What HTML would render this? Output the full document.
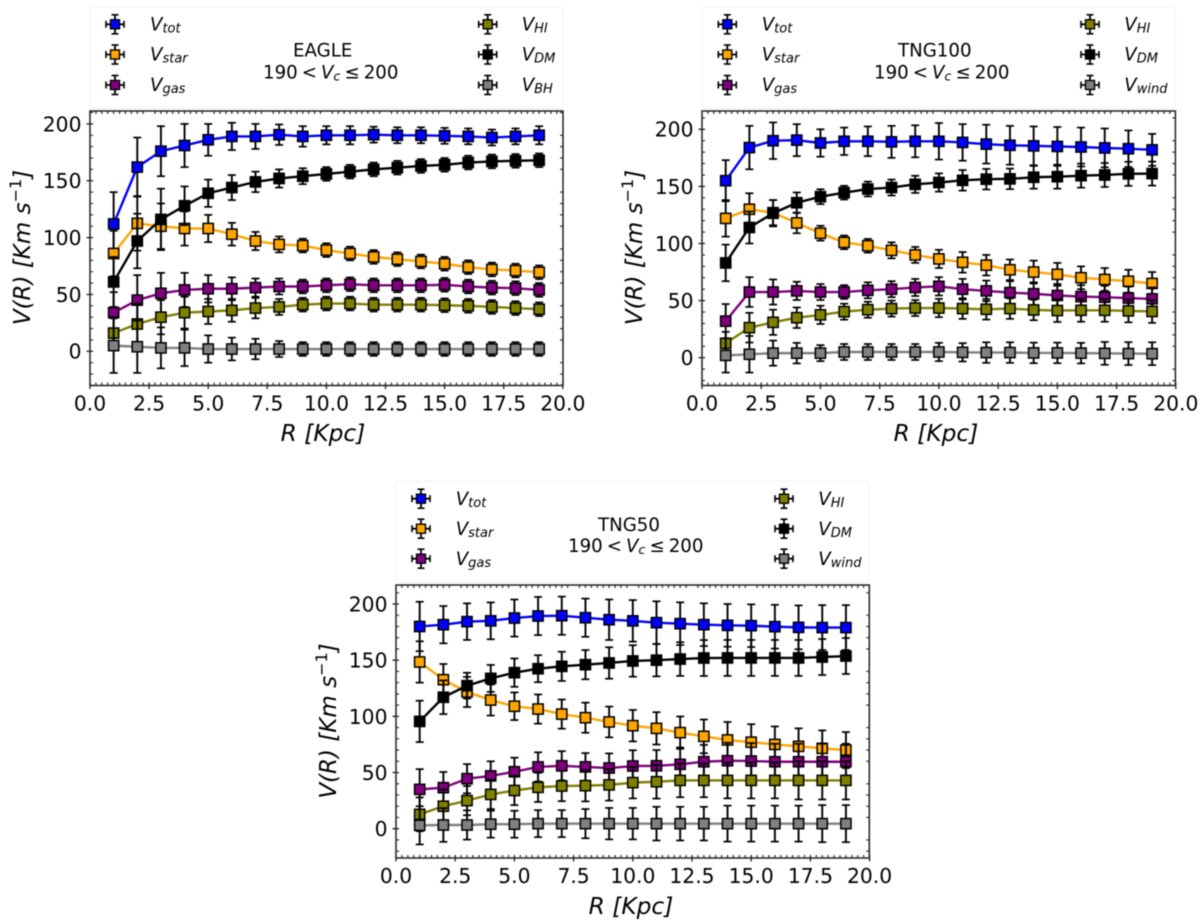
<!DOCTYPE html>
<html>
<head>
<meta charset="utf-8">
<title>Rotation curves</title>
<style>
html,body{margin:0;padding:0;background:#fff;width:1200px;height:923px;overflow:hidden}
svg{display:block;filter:blur(0.4px)}
text{font-family:"DejaVu Sans","Liberation Sans",sans-serif;fill:#000}
</style>
</head>
<body>
<svg id="fig" xmlns="http://www.w3.org/2000/svg" width="1200" height="923" viewBox="0 0 1200 923"></svg>
<script>
const radii = [1,2,3,4,5,6,7,8,9,10,11,12,13,14,15,16,17,18,19];
const xTickLabels = ['0.0','2.5','5.0','7.5','10.0','12.5','15.0','17.5','20.0'];
const yTickLabels = ['0','50','100','150','200'];

const eagleTot  = [112,162,176,181,186,189,189,190.5,189,190,190,190.5,190,190,189.5,189,188,189,190];
const eagleStar = [86,112.5,110,108,108,103,97,94,93,89,86,83,81,79,77,74,72,71,69.5];
const eagleGas  = [34,45,51,54,55,55,56,57,57,58,59,58,58,58,58.5,57,56,55.5,54];
const eagleHI   = [16,24,30,34,35,36,38,39,41,42,42,41,41,41,40.5,40,39,38,37];
const eagleDM   = [61,97,116,128,139,144,149,152,154,156,158,160,161.5,163,164,166,167,167.5,168];
const eagleBH   = [5,4,3,3,2,2,2,2,2,2,2,2,2,2,2,2,2,2,2];
const eagleTotErr  = [28,26,22,19,14,12,11,9,9,8,8,7,7,7,7,7,7,7,8];
const eagleStarErr = [20,24,20,15,12,10,8,7,6,6,6,6,6,6,6,6,6,6,6];
const eagleGasErr  = [18,22,18,15,12,10,8,7,6,6,6,6,6,6,6,6,6,6,6];
const eagleHIErr   = [14,18,15,14,11,10,9,7,6,6,6,6,6,6,6,6,6,6,6];
const eagleDMErr   = [22,24,27,17,12,11,9,8,7,6,6,6,6,6,6,6,6,6,6];
const eagleBHErr   = [24,23,18,16,12,10,9,7,6,6,6,6,6,6,6,6,6,6,6];

const tng100Tot  = [155,184,190,190.5,188,189.5,189.5,189,189.5,189.5,188.5,187,186,185.5,185,184.5,183.7,183,182];
const tng100Star = [122,130,127,118,109,101,98,94,90,86.5,83.5,81,77,75,73,70,68.5,67,65];
const tng100Gas  = [32,57.5,57.5,58.5,57.5,57.5,59,60,61.5,62.5,60,58.5,57,56,54.5,53.5,53,52.2,51.5];
const tng100HI   = [12.6,26.3,31,35,37.5,40.3,42,43,43.5,43.5,43,42.4,43,41.8,41.3,41.5,41.5,41,40.5];
const tng100DM   = [83,114,126.5,135.7,141,144.5,147.7,149,151.8,153.4,155.3,156.3,156.6,158,158.5,159.4,160,161,161.2];
const tng100Wind = [2,3,4,4,4,5,5,5,5,5,4.7,4.5,4.5,4.2,4.2,4,3.8,3.6,3.5];
const tng100TotErr  = [18,19,16,14,12,12,13,14,14,16,16,17,17,17,17,17,17,16,14];
const tng100StarErr = [16,14,11,9,6.5,6,6,7,7,8,9,9,9,10,10,10,10,10,10];
const tng100GasErr  = [15,13,11,8,7,6,7,7,7.5,8,9,9,10,10,10,10,10,10,10];
const tng100HIErr   = [10,13,11,9,8,7,7,7,7,8,9,9,9,9,10,10,10,10,10];
const tng100DMErr   = [16,14,11.5,9,6.5,6,6.5,7,7.5,8,9,9,9,10,10.5,10.5,10.5,10.5,10.5];
const tng100WindErr = [15,16,11,9,7,7,7,7,7,8,8,9,9,9,9,9,10,10,10];

const tng50Tot  = [180,181.6,184.3,185,187.5,189.3,189.6,187.8,186,185,183.4,182.5,181.6,181,180.7,179.8,179.2,179,179];
const tng50Star = [148.4,132.6,121.7,114.5,109,106.5,102,98.8,95,91.7,89.3,85.5,82.2,79,77,75,73.3,71.5,70];
const tng50Gas  = [35,36.5,44.5,47,50.7,55,56,55,54,55.8,56,57.3,59.6,60.5,60.2,59.6,59.6,59.6,59.6];
const tng50HI   = [12.8,20,25,30.5,34,36.8,38,38.3,39,41,41.8,43,43,43,43,43,43,43,43];
const tng50DM   = [95.5,117,127.3,133.8,138.9,142.4,144.5,146,147.5,149.3,150,151,151.9,152,152,152,152,152.8,153.7];
const tng50Wind = [3,3.3,3.3,4,4,4.5,4.5,4.5,4.5,4.5,4.5,4.5,4.5,4.5,4.5,4.5,4.5,4.5,4.5];
const tng50TotErr  = [22,16.6,16.3,16.4,16.5,17,17,17,18,18.5,19,19,19,19,19,19.5,19.5,20,20];
const tng50StarErr = [18.4,14,13.4,13.8,12.3,13,13,13.4,13.7,14,14.4,14.4,15,16,16,16,16,16,16];
const tng50GasErr  = [18,14,13,13,12.5,13,13,12.3,13,14,14,15,15,16,16,16,16,16,16];
const tng50HIErr   = [15,15,13,13,13,13,13.5,14,14,14,15,15,15,16,16,16,17,17,17];
const tng50DMErr   = [18.4,15,11.5,12,12.6,12,13,13,14,14,14.4,15,16,16,16,16,16,16,16];
const tng50WindErr = [17,15,13,12,12,12,12,13,14,14,15,15,15,16,16,16,16,16.5,16.5];

const seriesColors = ['#0000ff','#ffa500','#800080','#808000','#000000','#808080'];

const panels = [
  {id:'eagle', title:'EAGLE', box:[90,563,111,385.5], xk:23.64, y0:351.3, yk:1.137,
   values:[eagleTot,eagleStar,eagleGas,eagleHI,eagleDM,eagleBH],
   errors:[eagleTotErr,eagleStarErr,eagleGasErr,eagleHIErr,eagleDMErr,eagleBHErr],
   subs:['tot','star','gas','HI','DM','BH'],
   legend:{box:[90,7,473,101],mx:[115,487.7],tx:[150,521.7],rows:[24.3,54.5,85],titleX:293,subX:263,b1:56.7,b2:78.3},
   ylabelX:30, ylabelY:247.5, xlabelX:323, xlabelY:441},
  {id:'tng100', title:'TNG100', box:[702,1175.4,111,385.5], xk:23.69, y0:357.7, yk:1.142,
   values:[tng100Tot,tng100Star,tng100Gas,tng100HI,tng100DM,tng100Wind],
   errors:[tng100TotErr,tng100StarErr,tng100GasErr,tng100HIErr,tng100DMErr,tng100WindErr],
   subs:['tot','star','gas','HI','DM','wind'],
   legend:{box:[702.3,7,472.7,101],mx:[727.3,1090],tx:[761.7,1124.3],rows:[24.3,54.5,85],titleX:898,subX:874,b1:56.7,b2:78.3},
   ylabelX:642, ylabelY:247.5, xlabelX:936, xlabelY:441},
  {id:'tng50', title:'TNG50', box:[396,869.3,585,858], xk:23.68, y0:828.7, yk:1.1235,
   values:[tng50Tot,tng50Star,tng50Gas,tng50HI,tng50DM,tng50Wind],
   errors:[tng50TotErr,tng50StarErr,tng50GasErr,tng50HIErr,tng50DMErr,tng50WindErr],
   subs:['tot','star','gas','HI','DM','wind'],
   legend:{box:[396,481.3,473,100.7],mx:[421,784],tx:[455.7,818.3],rows:[498.7,528.7,558.7],titleX:598,subX:568,b1:531,b2:552},
   ylabelX:336, ylabelY:721, xlabelX:631, xlabelY:914}
];

const NS = 'http://www.w3.org/2000/svg';
const fig = document.getElementById('fig');
function mk(tag, parent, attrs){
  const el = document.createElementNS(NS, tag);
  for (const k in attrs) el.setAttribute(k, attrs[k]);
  parent.appendChild(el);
  return el;
}
function line(parent,x1,y1,x2,y2,stroke,w){
  return mk('line',parent,{x1:x1,y1:y1,x2:x2,y2:y2,stroke:stroke,'stroke-width':w});
}
function addSpan(textEl, str, opts){
  const s = document.createElementNS(NS,'tspan');
  s.textContent = str;
  for (const k in opts) s.setAttribute(k, opts[k]);
  textEl.appendChild(s);
  return s;
}
function drawMarker(parent,cx,cy,color,size,edge){
  mk('rect',parent,{x:cx-size/2,y:cy-size/2,width:size,height:size,fill:color,stroke:'#000','stroke-width':edge});
}

panels.forEach(function(p){
  const L=p.box[0],R=p.box[1],T=p.box[2],B=p.box[3];
  const sx=function(v){return L+v*p.xk;};
  const sy=function(v){return p.y0-v*p.yk;};
  const g = mk('g',fig,{});
  
  

  // legend
  const lg = mk('g',g,{});
  
  
  const lb = p.legend.box;
  const frame = mk('rect',lg,{x:lb[0],y:lb[1],width:lb[2],height:lb[3],rx:3,fill:'#fff',stroke:'#f2f2f2','stroke-width':1});
  
  
  p.subs.forEach(function(sub,i){
    const col = i<3?0:1;
    const ry = p.legend.rows[i%3];
    const mx = p.legend.mx[col];
    const e = mk('g',lg,{});
    
    
    line(e,mx-9,ry,mx+9,ry,'#000',1.8);
    line(e,mx,ry-9.5,mx,ry+9.5,'#000',1.8);
    line(e,mx-9,ry-3.5,mx-9,ry+3.5,'#000',1.6);
    line(e,mx+9,ry-3.5,mx+9,ry+3.5,'#000',1.6);
    line(e,mx-3.5,ry-9.5,mx+3.5,ry-9.5,'#000',1.6);
    line(e,mx-3.5,ry+9.5,mx+3.5,ry+9.5,'#000',1.6);
    drawMarker(e,mx,ry,seriesColors[i],9,1.4);
    const t = mk('text',e,{x:p.legend.tx[col],y:ry+6.2,'font-size':18.2,'font-style':'italic'});
    addSpan(t,'V',{});
    addSpan(t,sub,{'font-size':13,dy:2});
  });
  const t1 = mk('text',lg,{x:p.legend.titleX,y:p.legend.b1,'font-size':18.2,fill:'#111'});
  t1.textContent = p.title;
  
  
  const t2 = mk('text',lg,{x:p.legend.subX,y:p.legend.b2,'font-size':18.2,fill:'#111'});
  
  
  addSpan(t2,'190',{});
  addSpan(t2,'<',{dx:4});
  addSpan(t2,'V',{'font-style':'italic',dx:4});
  addSpan(t2,'c',{'font-style':'italic','font-size':12.8,dy:2});
  addSpan(t2,'≤',{dx:4,dy:-2});
  addSpan(t2,'200',{dx:4});

  // axes background
  const bg = mk('rect',g,{x:L,y:T,width:R-L,height:B-T,fill:'#fff'});
  
  

  // series
  const plot = mk('g',g,{});
  
  
  p.values.forEach(function(vals,i){
    const sg = mk('g',plot,{});
    
    
    const pts = vals.map(function(v,j){return sx(radii[j]).toFixed(2)+','+sy(v).toFixed(2);}).join(' ');
    mk('polyline',sg,{points:pts,fill:'none',stroke:seriesColors[i],'stroke-width':2.4,'stroke-linejoin':'round'});
    vals.forEach(function(v,j){
      const x=sx(radii[j]),e=p.errors[i][j];
      const y1=sy(v+e),y2=sy(v-e);
      line(sg,x,y1,x,y2,'#000',1.9);
      line(sg,x-4,y1,x+4,y1,'#000',1.7);
      line(sg,x-4,y2,x+4,y2,'#000',1.7);
    });
    vals.forEach(function(v,j){
      drawMarker(sg,sx(radii[j]),sy(v),seriesColors[i],10.2,1.5);
    });
  });

  // ticks
  const ax = mk('g',g,{});
  
  
  const tc='#222';
  for(let n=0;n<=80;n++){
    const x=sx(n*0.25);
    if(n%10===0){
      line(ax,x,B-3,x,B+3.5,tc,1.3);
    }else{
      line(ax,x,B-3,x,B,tc,1.1);
      line(ax,x,T,x,T+3,tc,1.1);
    }
  }
  const yMin=Math.ceil((p.y0-B)/p.yk/10)*10, yMax=Math.floor((p.y0-T)/p.yk/10)*10;
  for(let v=yMin;v<=yMax;v+=10){
    const y=sy(v);
    if(v%50===0){
      line(ax,L-3.5,y,L+3,y,tc,1.3);
    }else{
      line(ax,L,y,L+3,y,tc,1.1);
      line(ax,R-3,y,R,y,tc,1.1);
    }
  }
  const spine = mk('rect',ax,{x:L,y:T,width:R-L,height:B-T,fill:'none',stroke:'#222','stroke-width':1.5});
  
  

  xTickLabels.forEach(function(lbl){
    const t = mk('text',ax,{x:sx(parseFloat(lbl)),y:B+25,'font-size':20.3,'text-anchor':'middle'});
    t.textContent = lbl;
    
    
  });
  yTickLabels.forEach(function(lbl){
    const t = mk('text',ax,{x:L-8.5,y:sy(parseFloat(lbl))+7.4,'font-size':20.3,'text-anchor':'end'});
    t.textContent = lbl;
    
    
  });

  const xl = mk('text',ax,{x:p.xlabelX,y:p.xlabelY,'font-size':23.3,'font-style':'italic','text-anchor':'middle'});
  
  
  xl.textContent = 'R [Kpc]';

  const yl = mk('text',ax,{transform:'translate('+p.ylabelX+','+p.ylabelY+') rotate(-90)','font-size':23,'font-style':'italic','text-anchor':'middle'});
  
  
  addSpan(yl,'V(R) [Km s',{});
  addSpan(yl,'−1',{'font-size':16,dy:-9,'font-style':'normal'});
  addSpan(yl,']',{dy:9});
});
</script>
</body>
</html>
